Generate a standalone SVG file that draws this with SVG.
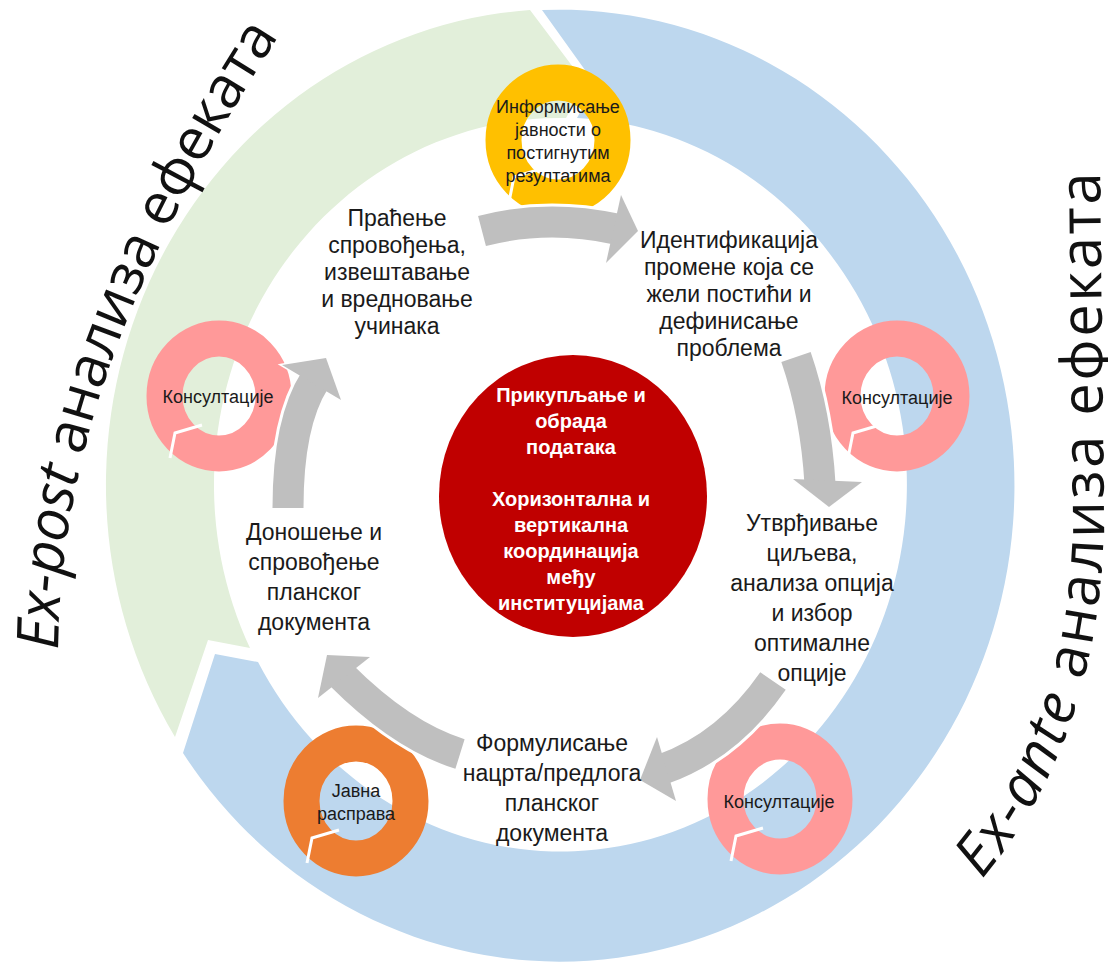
<svg xmlns="http://www.w3.org/2000/svg" width="1108" height="962" viewBox="0 0 1108 962">
<defs>
<style>
.lbl{font-family:"Liberation Sans",Arial,sans-serif;font-size:23px;fill:#1a1a1a;text-anchor:middle}
.dn{font-family:"Liberation Sans",Arial,sans-serif;font-size:18px;fill:#1a1a1a;text-anchor:middle}
.ctr{font-family:"Liberation Sans",Arial,sans-serif;font-size:20px;font-weight:bold;fill:#fff;text-anchor:middle}
.side{font-family:"Open Sans","Noto Sans",sans-serif;font-size:58px;fill:#111}
.ring{fill:none;stroke-width:36}
.cut{fill:none;stroke:#fff;stroke-width:3}
.ga{fill:none;stroke:#BFBFBF;stroke-width:31}
.gw{fill:none;stroke:#fff;stroke-width:37}
.gh{fill:#BFBFBF;stroke:#fff;stroke-width:3;stroke-linejoin:miter}
.gf{fill:#BFBFBF}
</style>
<path id="pl" d="M 58 662 C 58 480 112 290 288 22"/>
<path id="pr" d="M 978 884 Q 1101 740 1104 520 L 1100 155"/>
</defs>
<rect width="1108" height="962" fill="#fff"/>

<g id="outer-ring">
<path id="ex-post-arrow" fill="#E2EFDA" d="M 175 737 A 455 476 0 0 1 530 10 L 585 83 L 566 118 A 346 367 0 0 0 250 648 L 208 640 Z"/>
<path id="ex-ante-arrow" fill="#BDD7EE" d="M 542 10 A 455 476 0 1 1 183 753 L 215 654 L 258 662 A 346 367 0 1 0 577 118 L 595 84 Z"/>
</g>

<g id="donut-informing" transform="translate(558,140)">
<ellipse class="ring" stroke="#FFC000" rx="54.5" ry="57.5"/>
<polyline class="cut" points="-49,62 -44,37 -17,29"/>
</g>
<g id="donut-consult-left" transform="translate(219,396)">
<ellipse class="ring" stroke="#FF9999" rx="54.5" ry="57.5"/>
<polyline class="cut" points="-49,62 -44,37 -17,29"/>
</g>
<g id="donut-consult-right" transform="translate(897,396)">
<ellipse class="ring" stroke="#FF9999" rx="54.5" ry="57.5"/>
<polyline class="cut" points="-49,62 -44,37 -17,29"/>
</g>
<g id="donut-public" transform="translate(356,801)">
<ellipse class="ring" stroke="#ED7D31" rx="54.5" ry="57.5"/>
<polyline class="cut" points="-49,62 -44,37 -17,29"/>
</g>
<g id="donut-consult-bottom" transform="translate(780,799)">
<ellipse class="ring" stroke="#FF9999" rx="54.5" ry="57.5"/>
<polyline class="cut" points="-49,62 -44,37 -17,29"/>
</g>

<g id="connectors">
<g id="arrow-top">
<path class="gw" d="M 482 231 Q 547 214 616 229"/>
<polygon class="gh" points="621,195 638,231 606,263"/>
<path class="ga" d="M 482 231 Q 547 214 616 229"/>
<polygon class="gf" points="621,195 638,231 606,263"/>
</g>
<g id="arrow-right">
<path class="gw" d="M 796 357 Q 816 415 820 484"/>
<polygon class="gh" points="793,479 829,507 862,482"/>
<path class="ga" d="M 796 357 Q 816 415 820 484"/>
<polygon class="gf" points="793,479 829,507 862,482"/>
</g>
<g id="arrow-bottom-right">
<path class="gw" d="M 773 681 Q 728 746 663 769"/>
<polygon class="gh" points="657,737 640,780 676,801"/>
<path class="ga" d="M 773 681 Q 728 746 663 769"/>
<polygon class="gf" points="657,737 640,780 676,801"/>
</g>
<g id="arrow-bottom-left">
<path class="gw" d="M 460 754 Q 402 736 341 675"/>
<polygon class="gh" points="370,657 327,655 318,698"/>
<path class="ga" d="M 460 754 Q 402 736 341 675"/>
<polygon class="gf" points="370,657 327,655 318,698"/>
</g>
<g id="arrow-left">
<path class="gw" d="M 288 508 Q 288 422 315 380"/>
<polygon class="gh" points="282,365 326,358 341,400"/>
<path class="ga" d="M 288 508 Q 288 422 315 380"/>
<polygon class="gf" points="282,365 326,358 341,400"/>
</g>
</g>

<g id="donut-labels">
<text class="dn"><tspan x="558" y="113">Информисање</tspan><tspan x="558" y="136">јавности о</tspan><tspan x="558" y="159">постигнутим</tspan><tspan x="558" y="182">резултатима</tspan></text>
<text class="dn" x="218" y="403">Консултације</text>
<text class="dn" x="897" y="404">Консултације</text>
<text class="dn" x="779" y="808">Консултације</text>
<text class="dn"><tspan x="356" y="797">Јавна</tspan><tspan x="356" y="820">расправа</tspan></text>
</g>

<g id="step-monitoring">
<text class="lbl"><tspan x="397" y="226">Праћење</tspan><tspan x="397" y="253">спровођења,</tspan><tspan x="397" y="280">извештавање</tspan><tspan x="397" y="307">и вредновање</tspan><tspan x="397" y="334">учинака</tspan></text>
</g>
<g id="step-identification">
<text class="lbl"><tspan x="729" y="248">Идентификација</tspan><tspan x="729" y="275">промене која се</tspan><tspan x="729" y="302">жели постићи и</tspan><tspan x="729" y="329">дефинисање</tspan><tspan x="729" y="356">проблема</tspan></text>
</g>
<g id="step-goals">
<text class="lbl"><tspan x="812" y="531">Утврђивање</tspan><tspan x="812" y="561">циљева,</tspan><tspan x="812" y="591">анализа опција</tspan><tspan x="812" y="621">и избор</tspan><tspan x="812" y="651">оптималне</tspan><tspan x="812" y="681">опције</tspan></text>
</g>
<g id="step-drafting">
<text class="lbl"><tspan x="552" y="751">Формулисање</tspan><tspan x="552" y="781">нацрта/предлога</tspan><tspan x="552" y="811">планског</tspan><tspan x="552" y="841">документа</tspan></text>
</g>
<g id="step-adoption">
<text class="lbl"><tspan x="314" y="540">Доношење и</tspan><tspan x="314" y="570">спровођење</tspan><tspan x="314" y="600">планског</tspan><tspan x="314" y="630">документа</tspan></text>
</g>

<g id="center">
<ellipse cx="573" cy="496" rx="134" ry="141" fill="#C00000"/>
<text class="ctr"><tspan x="571" y="402">Прикупљање и</tspan><tspan x="571" y="428">обрада</tspan><tspan x="571" y="454">података</tspan><tspan x="571" y="506">Хоризонтална и</tspan><tspan x="571" y="532">вертикална</tspan><tspan x="571" y="558">координација</tspan><tspan x="571" y="584">међу</tspan><tspan x="571" y="610">институцијама</tspan></text>
</g>

<g id="side-labels">
<text class="side"><textPath href="#pl" startOffset="12" textLength="662" lengthAdjust="spacing"><tspan font-style="italic">Ex-post</tspan> анализа ефеката</textPath></text>
<text class="side"><textPath href="#pr" startOffset="6" textLength="735" lengthAdjust="spacing"><tspan font-style="italic">Ex-ante</tspan> анализа ефеката</textPath></text>
</g>
</svg>
